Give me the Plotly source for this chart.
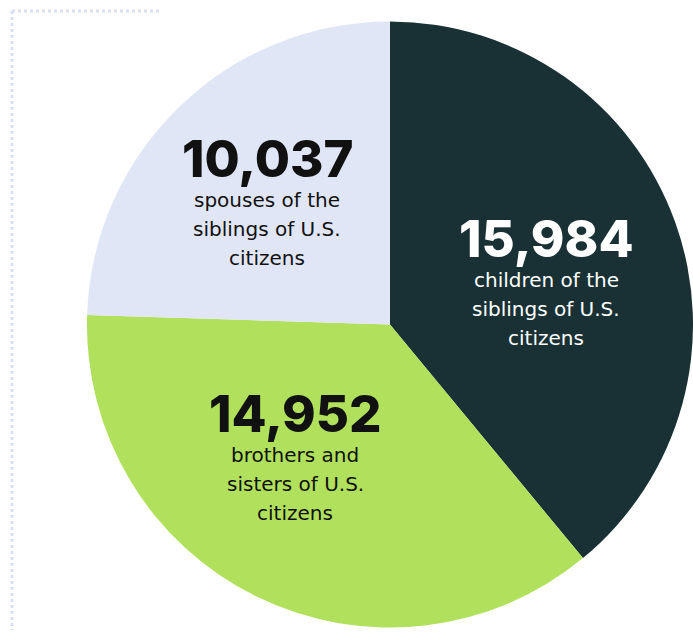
import plotly.graph_objects as go

categories = ["children of the siblings of U.S. citizens",
              "brothers and sisters of U.S. citizens",
              "spouses of the siblings of U.S. citizens"]
values = [15984, 14952, 10037]
colors = ["#193135", "#b0e05c", "#e0e6f6"]
label_lines = [["children of the", "siblings of U.S.", "citizens"],
               ["brothers and", "sisters of U.S.", "citizens"],
               ["spouses of the", "siblings of U.S.", "citizens"]]
text_colors = ["#ffffff", "#111111", "#111111"]
# label centres (pixel) for each slice
label_pos = [(546, 238), (295, 413), (267, 158)]

W, H = 693, 633

fig = go.Figure(go.Pie(
    labels=categories, values=values, sort=False, direction="clockwise",
    rotation=0, marker=dict(colors=colors, line=dict(width=0)),
    textinfo="none", hoverinfo="label+value", showlegend=False,
    domain=dict(x=[0.1255, 1.0], y=[0.0, 1 - 16 / H]),
))

annotations = []
for (px, py), v, lines, tc in zip(label_pos, values, label_lines, text_colors):
    annotations.append(dict(
        x=px / W, y=1 - py / H, xref="paper", yref="paper",
        text=f"{v:,}", showarrow=False, xanchor="center", yanchor="middle",
        font=dict(family="Inter", size=51, color=tc, weight=800)))
    for i, ln in enumerate(lines):
        annotations.append(dict(
            x=px / W, y=1 - (py + 42 + 29 * i) / H, xref="paper", yref="paper",
            text=ln, showarrow=False, xanchor="center", yanchor="middle",
            font=dict(family="DejaVu Sans", size=20, color=tc)))

shapes = [
    dict(type="line", xref="paper", yref="paper", x0=12 / W, x1=162 / W,
         y0=1 - 11 / H, y1=1 - 11 / H, line=dict(color="#dae0f4", width=3, dash="3px,3px")),
    dict(type="line", xref="paper", yref="paper", x0=12 / W, x1=12 / W,
         y0=1 - 11 / H, y1=1 - 630 / H, line=dict(color="#dae0f4", width=3, dash="3px,3px")),
]

fig.update_layout(width=W, height=H, margin=dict(l=0, r=0, t=0, b=0),
                  paper_bgcolor="white", plot_bgcolor="white",
                  annotations=annotations, shapes=shapes)
fig.write_html("out.html", config=dict(displayModeBar=False),
               post_script="document.body.style.margin='0';document.body.style.overflow='hidden';")
